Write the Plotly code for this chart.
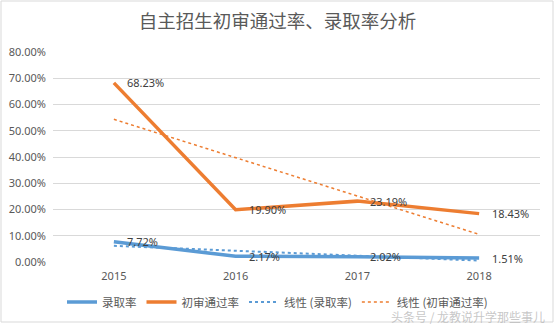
import numpy as np
import plotly.graph_objects as go

# ---- data ----
years = ["2015", "2016", "2017", "2018"]
admit_rate = [7.72, 2.17, 2.02, 1.51]          # 录取率 (%)
review_rate = [68.23, 19.90, 23.19, 18.43]     # 初审通过率 (%)
y_ticks = [0, 10, 20, 30, 40, 50, 60, 70, 80]

title_text = "自主招生初审通过率、录取率分析"
names = ["录取率", "初审通过率", "线性 (录取率)", "线性 (初审通过率)"]
watermark = "头条号 / 龙教说升学那些事儿"

BLUE = "#5B9BD5"
ORANGE = "#ED7D31"
GRID = "#D9D9D9"
TXT = "#595959"

# linear trendlines (least squares on category index, as in the spreadsheet trendline)
idx = np.arange(len(years))
admit_fit = np.polyval(np.polyfit(idx, admit_rate, 1), idx)
review_fit = np.polyval(np.polyfit(idx, review_rate, 1), idx)

L, R, T, B = 53, 15, 52, 62
W, H = 555, 324
pw, ph = W - L - R, H - T - B


def px(x):
    return (x - L) / pw


def py(y):
    return (H - B - y) / ph


fig = go.Figure()
fig.add_trace(go.Scatter(x=years, y=admit_rate, mode="lines", name=names[0],
                         line=dict(color=BLUE, width=3.5)))
fig.add_trace(go.Scatter(x=years, y=review_rate, mode="lines", name=names[1],
                         line=dict(color=ORANGE, width=3.5)))
fig.add_trace(go.Scatter(x=years, y=admit_fit, mode="lines", name=names[2],
                         line=dict(color=BLUE, width=2, dash="dot")))
fig.add_trace(go.Scatter(x=years, y=review_fit, mode="lines", name=names[3],
                         line=dict(color=ORANGE, width=1.5, dash="dot")))

annotations = []
for series in (admit_rate, review_rate):
    for i, v in enumerate(series):
        annotations.append(dict(x=i, y=v, xref="x", yref="y", text=f"{v:.2f}%",
                                showarrow=False, xanchor="left", yanchor="middle",
                                xshift=11, font=dict(family="Noto Sans", size=11, color="#404040")))
annotations.append(dict(x=px(547), y=py(316), xref="paper", yref="paper",
                        text=watermark, showarrow=False, xanchor="right", yanchor="middle",
                        font=dict(family="Noto Sans CJK SC", size=12, color="rgba(185,185,185,0.8)")))

fig.update_layout(
    width=W, height=H,
    margin=dict(l=L, r=R, t=T, b=B, pad=0, autoexpand=False),
    paper_bgcolor="white", plot_bgcolor="white",
    title=dict(text=title_text, x=0.5, xref="container", xanchor="center",
               y=1 - 22 / H, yref="container", yanchor="middle",
               font=dict(family="Noto Sans CJK SC", size=18.5, color=TXT)),
    xaxis=dict(type="category", range=[-0.5, 3.5], showgrid=False, zeroline=False,
               showline=False, ticks="", ticklabelstandoff=6, automargin=False,
               tickfont=dict(family="Noto Sans", size=11, color=TXT)),
    yaxis=dict(range=[0, 80], tickvals=y_ticks, ticktext=[f"{t:.2f}%" for t in y_ticks],
               showgrid=True, gridcolor=GRID, gridwidth=1, zeroline=False, showline=False,
               ticks="", ticklabelstandoff=6, automargin=False,
               tickfont=dict(family="Noto Sans", size=11, color=TXT)),
    legend=dict(orientation="h", x=0.5, xref="container", xanchor="center",
                y=1 - 302 / H, yref="container", yanchor="middle",
                font=dict(family="Noto Sans CJK SC", size=11.5, color=TXT),
                itemwidth=30, tracegroupgap=0, bgcolor="rgba(0,0,0,0)"),
    annotations=annotations,
    shapes=[dict(type="rect", xref="paper", yref="paper",
                 x0=px(1), x1=px(553), y0=py(322), y1=py(1),
                 line=dict(color=GRID, width=1), fillcolor="rgba(0,0,0,0)", layer="below")],
    showlegend=True,
)

fig.write_html("out.html")
